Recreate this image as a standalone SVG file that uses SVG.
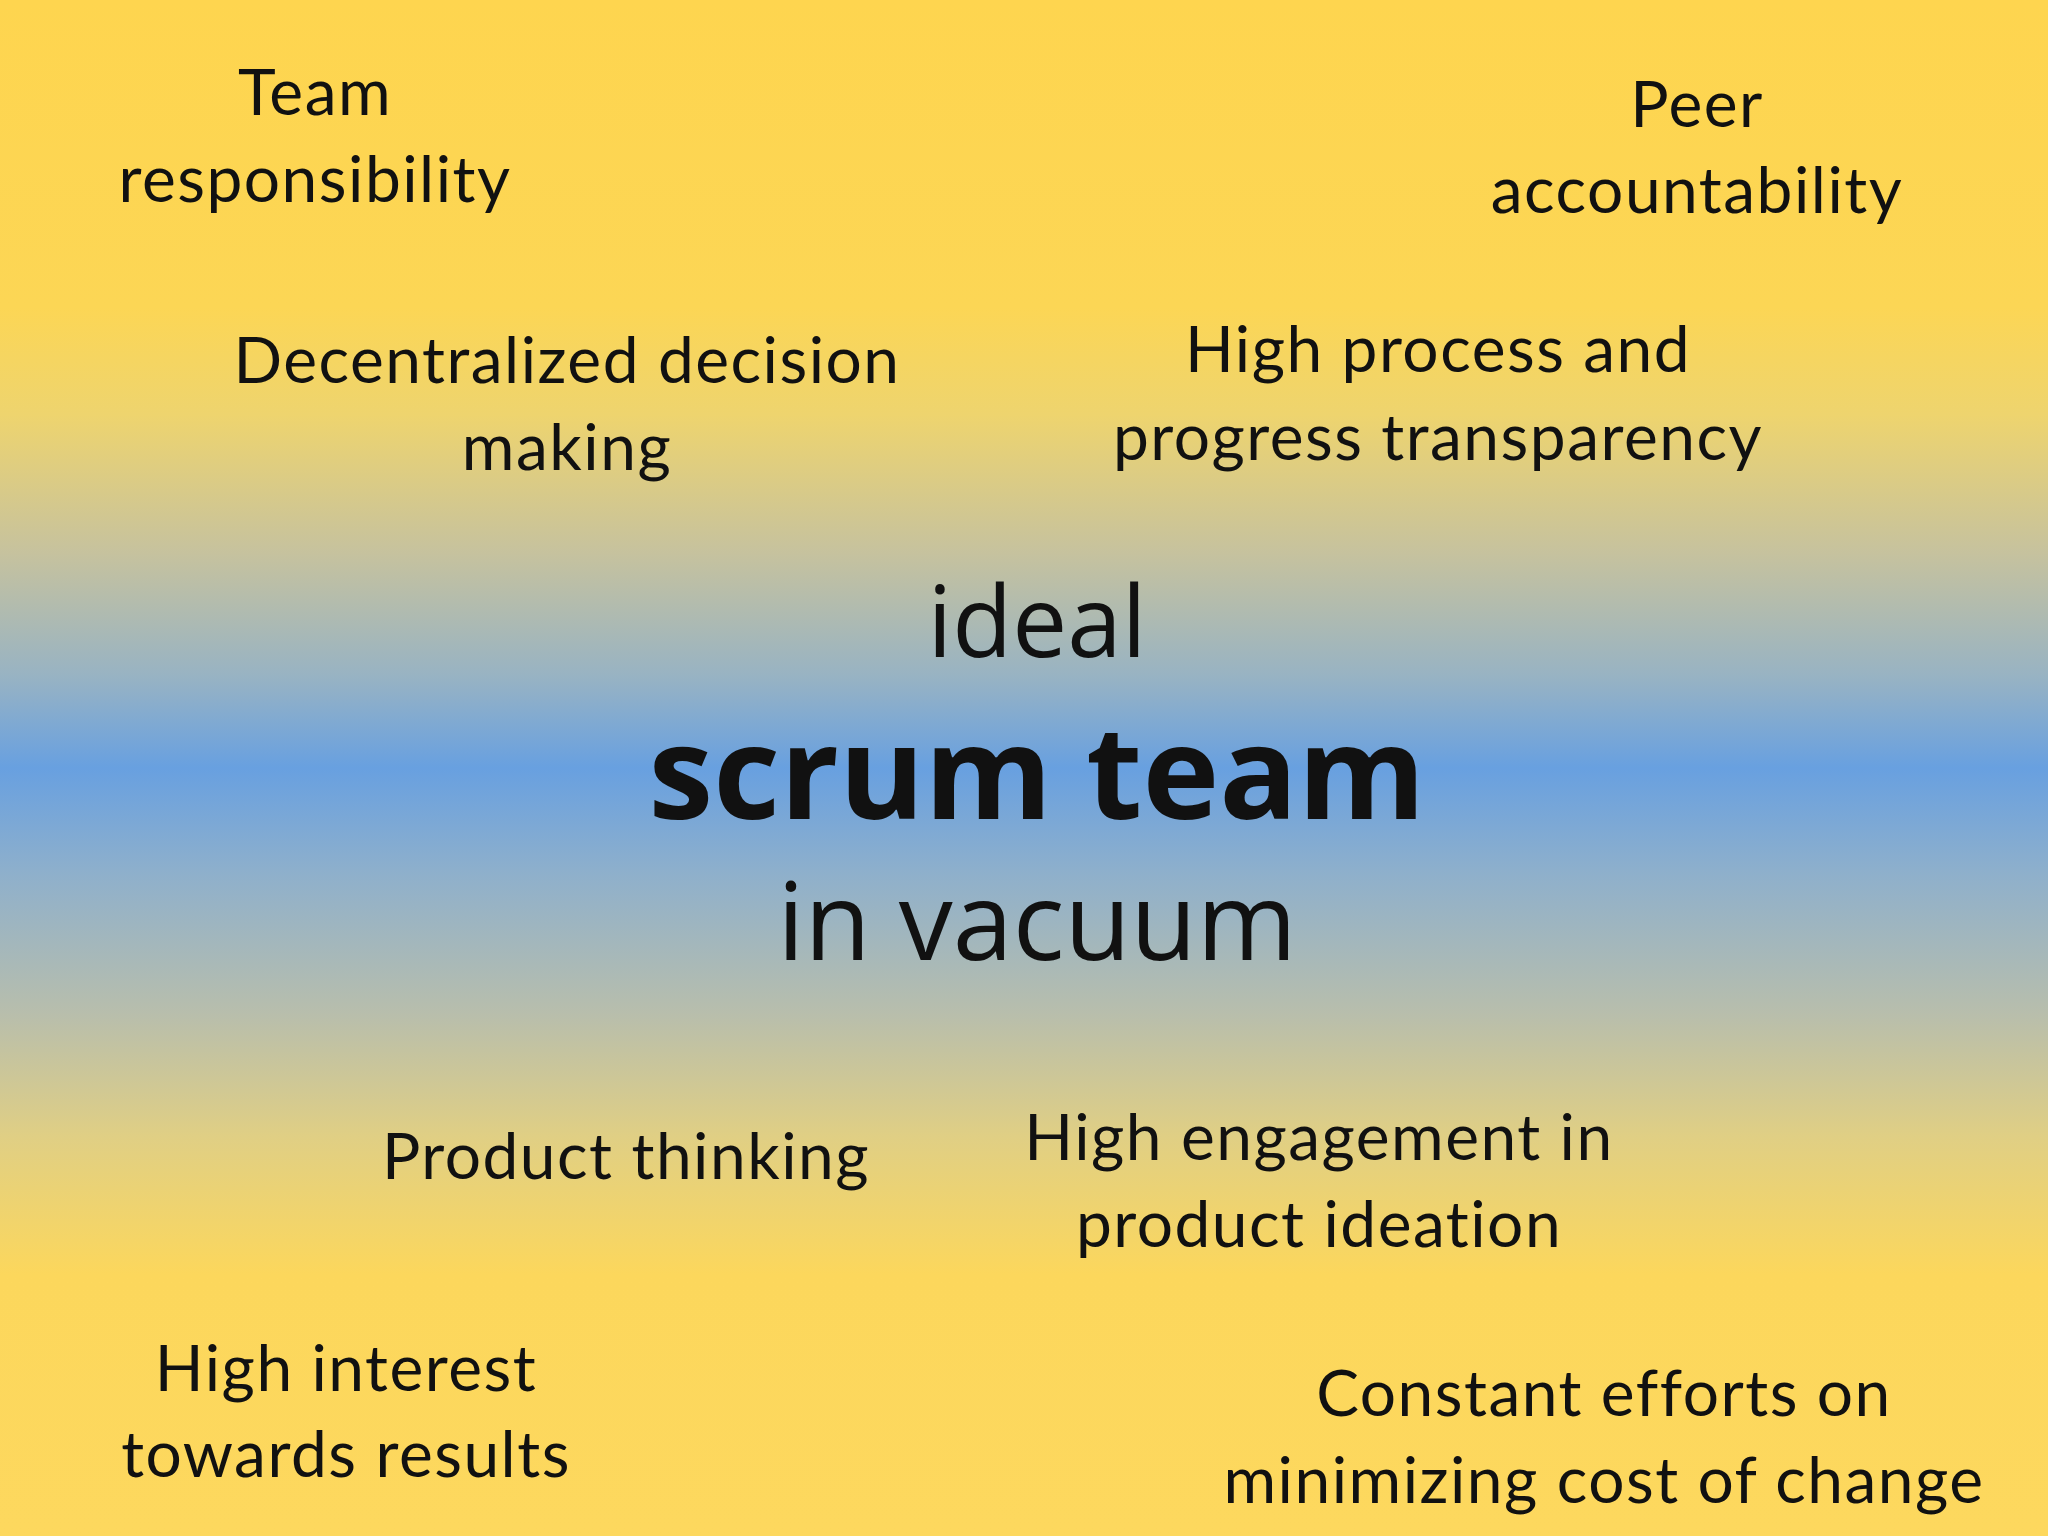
<svg xmlns="http://www.w3.org/2000/svg" width="2048" height="1536" viewBox="0 0 2048 1536">
<defs>
<linearGradient id="bg" x1="0" y1="0" x2="0" y2="1">
<stop offset="0" stop-color="#FED54F"/>
<stop offset="0.2" stop-color="#FCD655"/>
<stop offset="0.27" stop-color="#EED46E"/>
<stop offset="0.36" stop-color="#C6C29E"/>
<stop offset="0.44" stop-color="#98B3C3"/>
<stop offset="0.5" stop-color="#68A0E0"/>
<stop offset="0.57" stop-color="#8FB0CB"/>
<stop offset="0.66" stop-color="#B8BEAC"/>
<stop offset="0.74" stop-color="#E0CF84"/>
<stop offset="0.83" stop-color="#FCD75C"/>
<stop offset="1" stop-color="#FDD85E"/>
</linearGradient>
<style>
text{font-family:Lato,"Open Sans",sans-serif;fill:#111;text-anchor:middle}
.s{font-size:64px;letter-spacing:1.5px}
.c{font-family:"Open Sans",Lato,sans-serif}
</style>
</defs>
<rect width="2048" height="1536" fill="url(#bg)"/>
<g id="team-responsibility"><text class="s" x="315" y="115">Team</text><text class="s" x="315" y="202">responsibility</text></g>
<g id="peer-accountability"><text class="s" x="1697" y="127">Peer</text><text class="s" x="1697" y="213">accountability</text></g>
<g id="decentralized"><text class="s" x="567" y="383">Decentralized decision</text><text class="s" x="567" y="470">making</text></g>
<g id="transparency"><text class="s" x="1438" y="372">High process and</text><text class="s" x="1438" y="460">progress transparency</text></g>
<g id="center">
<text class="c" x="1037" y="657" font-size="98">ideal</text>
<text class="c" x="1037" y="819" font-size="130" font-weight="bold">scrum team</text>
<text class="c" x="1037" y="960" font-size="108">in vacuum</text>
</g>
<g id="product-thinking"><text class="s" x="626" y="1179">Product thinking</text></g>
<g id="engagement"><text class="s" x="1319" y="1160">High engagement in</text><text class="s" x="1319" y="1247">product ideation</text></g>
<g id="interest"><text class="s" x="346" y="1391">High interest</text><text class="s" x="346" y="1477">towards results</text></g>
<g id="cost-of-change"><text class="s" x="1604" y="1416">Constant efforts on</text><text class="s" x="1604" y="1503">minimizing cost of change</text></g>
</svg>
